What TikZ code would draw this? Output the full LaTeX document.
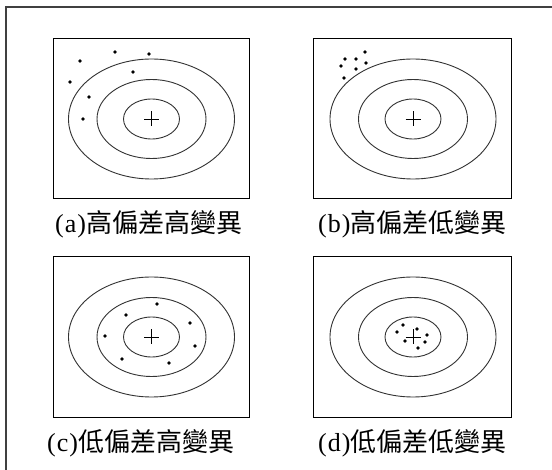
\documentclass[tikz,border=0pt]{standalone}
\usepackage{fontspec}
\newfontfamily\cjk{Noto Sans CJK TC}
\newfontfamily\lat[LetterSpace=4]{Liberation Serif}
\usetikzlibrary{calc}
\tikzset{
  panelbox/.style={draw=black, line width=0.9pt},
  ring/.style={draw=black!80, line width=0.9pt},
  crossmark/.style={draw=black, line width=0.8pt},
  dotmark/.style={fill=black},
  caption/.style={anchor=west, inner sep=0pt, font=\fontsize{26}{29}\selectfont},
  frameline/.style={draw=black!75, line width=1.2pt}
}
\newcommand{\targetat}[3]{%
  \coordinate (#1) at (#2,#3);
  \draw[ring] (#1) ellipse [x radius=83pt, y radius=60pt];
  \draw[ring] (#1) ellipse [x radius=54.5pt, y radius=39.5pt];
  \draw[ring] (#1) ellipse [x radius=28pt, y radius=20pt];
  \draw[crossmark] ($(#1)+(-7.5,0)$) -- ($(#1)+(7.5,0)$);
  \draw[crossmark] ($(#1)+(0,-7.5)$) -- ($(#1)+(0,7.5)$);
}
\begin{document}
\begin{tikzpicture}[x=1pt,y=-1pt]
\useasboundingbox (0,0) rectangle (552,470);
\fill[white] (0,0) rectangle (552,470);
% outer frame (top and left edges)
\coordinate (ftl) at (6,7);
\coordinate (ftr) at (552,7);
\coordinate (fbl) at (6,470);
\draw[frameline] (ftr) -- (ftl) -- (fbl);
% boxes
\draw[panelbox] (53,38) rectangle (249,198);
\draw[panelbox] (313,38) rectangle (511,198);
\draw[panelbox] (53,256) rectangle (249,417);
\draw[panelbox] (313,256) rectangle (511,417);
% targets
\targetat{ta}{151.5}{119}
\targetat{tb}{413}{119}
\targetat{tc}{151.5}{337}
\targetat{td}{413}{337}
% dots a
\foreach \p in {(80,61),(115,52),(149,54),(133,72),(70,82),(89,97),(83,119)}
  \fill[dotmark] \p circle (1.9pt);
% dots b
\foreach \p in {(365,52),(345,59),(356,59),(366,63),(341,66),(356,69),(344,78)}
  \fill[dotmark] \p circle (1.9pt);
% dots c
\foreach \p in {(157,304),(126,315),(190,323),(105,336),(195,346),(122,359),(169,363)}
  \fill[dotmark] \p circle (1.9pt);
% dots d
\foreach \p in {(403,325),(417,329),(397,332),(427,335),(405,341),(425,342),(418,348)}
  \fill[dotmark] \p circle (1.9pt);
% captions
\node[caption] (la) at (55,224) {{\lat (a)}{\cjk 高偏差高變異}};
\node[caption] (lb) at (318,224) {{\lat (b)}{\cjk 高偏差低變異}};
\node[caption] (lc) at (47,443) {{\lat (c)}{\cjk 低偏差高變異}};
\node[caption] (ld) at (318,443) {{\lat (d)}{\cjk 低偏差低變異}};
\end{tikzpicture}
\end{document}
